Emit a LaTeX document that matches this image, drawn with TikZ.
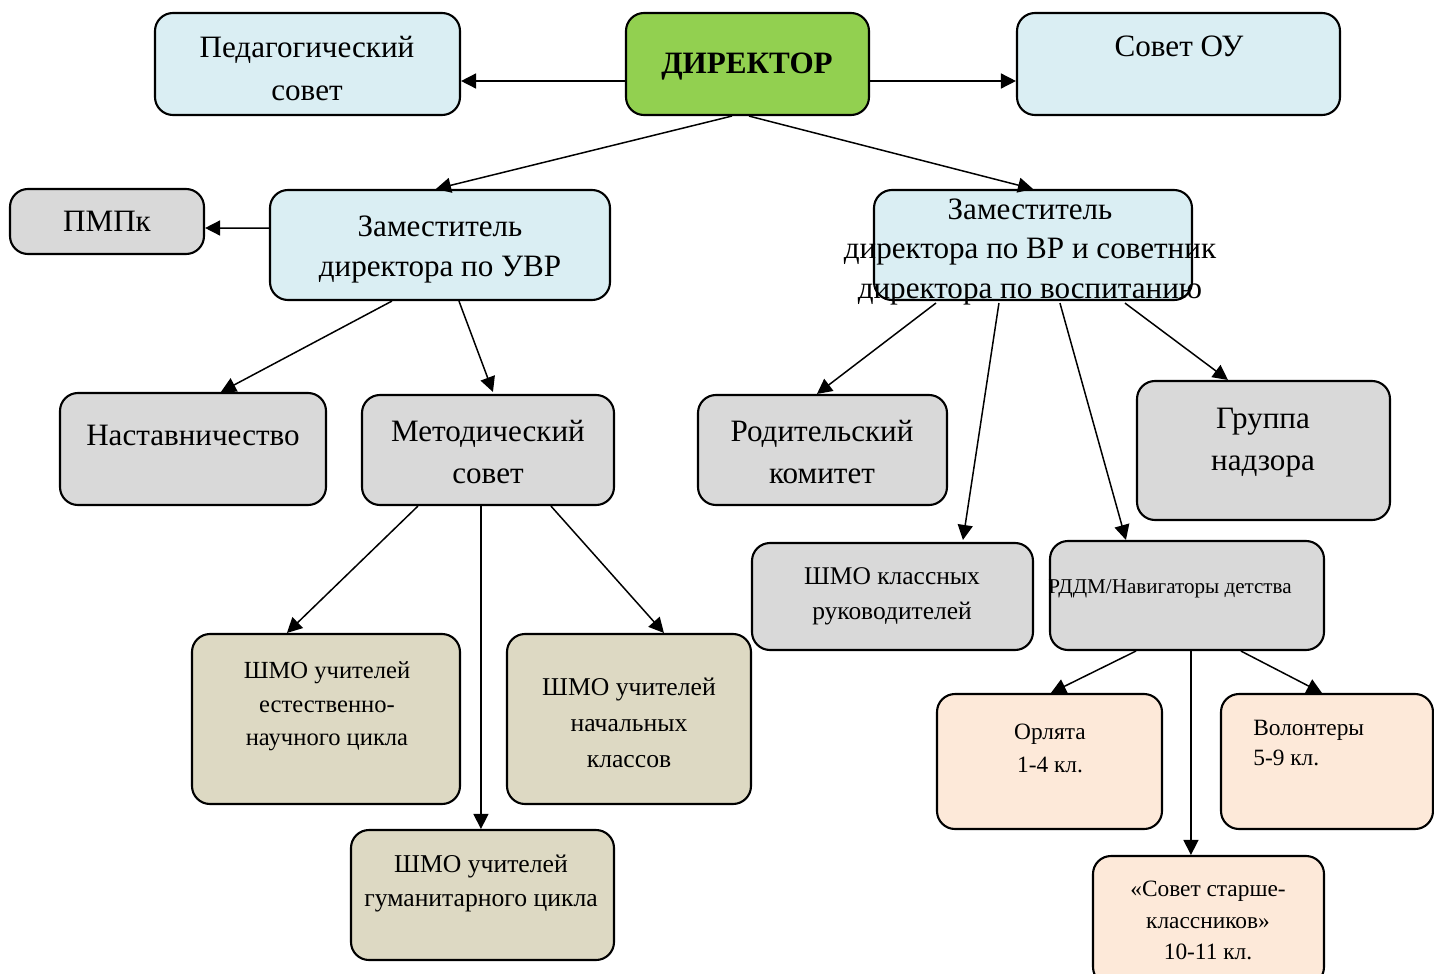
\documentclass[tikz,border=0pt]{standalone}
\usepackage{fontspec}
\setmainfont{Liberation Serif}
\usetikzlibrary{arrows.meta,calc}
\newdimen\px \px=0.02cm
\definecolor{org_green}{RGB}{146,208,80}
\definecolor{org_blue}{RGB}{218,238,243}
\definecolor{org_gray}{RGB}{217,217,217}
\definecolor{org_khaki}{RGB}{221,217,195}
\definecolor{org_peach}{RGB}{253,233,217}
\tikzstyle{box}=[rectangle,rounded corners=0.36cm,draw=black,line width=1.2pt,inner sep=0pt]
\tikzstyle{dn}=[box,fill=org_green]
\tikzstyle{bn}=[box,fill=org_blue]
\tikzstyle{sn}=[box,fill=org_gray]
\tikzstyle{kn}=[box,fill=org_khaki]
\tikzstyle{pn}=[box,fill=org_peach]
\tikzstyle{big}=[align=center,inner sep=0pt,font=\fontsize{17.7}{24}\selectfont]
\tikzstyle{mid}=[align=center,inner sep=0pt,font=\fontsize{14.5}{20}\selectfont]
\tikzstyle{sml}=[align=center,inner sep=0pt,font=\fontsize{13.3}{18.5}\selectfont]
\tikzstyle{arr}=[-{Triangle[length=0.3cm,width=0.3cm]},line width=0.85pt]

\begin{document}
\begin{tikzpicture}[x=\px,y=-\px]
        \useasboundingbox[fill=white] (0,0) rectangle (1434,974);
        % boxes
        \node [style=bn,minimum width=305\px,minimum height=102\px] (ped) at (307.5,64) {};
        \node [style=dn,minimum width=243\px,minimum height=102\px] (dir) at (747.5,64) {};
        \node [style=bn,minimum width=323\px,minimum height=102\px] (sov) at (1178.5,64) {};
        \node [style=sn,minimum width=194\px,minimum height=65\px] (pmpk) at (107,221.5) {};
        \node [style=bn,minimum width=340\px,minimum height=110\px] (uvr) at (440,245) {};
        \node [style=bn,minimum width=318\px,minimum height=110\px] (vr) at (1033,245) {};
        \node [style=sn,minimum width=266\px,minimum height=112\px] (nast) at (193,449) {};
        \node [style=sn,minimum width=252\px,minimum height=110\px] (met) at (488,450) {};
        \node [style=sn,minimum width=249\px,minimum height=110\px] (rod) at (822.5,450) {};
        \node [style=sn,minimum width=253\px,minimum height=139\px] (grp) at (1263.5,450.5) {};
        \node [style=sn,minimum width=281\px,minimum height=107\px] (shk) at (892.5,596.5) {};
        \node [style=sn,minimum width=274\px,minimum height=109\px] (rddm) at (1187,595.5) {};
        \node [style=kn,minimum width=268\px,minimum height=170\px] (est) at (326,719) {};
        \node [style=kn,minimum width=244\px,minimum height=170\px] (nach) at (629,719) {};
        \node [style=kn,minimum width=263\px,minimum height=130\px] (gum) at (482.5,895) {};
        \node [style=pn,minimum width=225\px,minimum height=135\px] (orl) at (1049.5,761.5) {};
        \node [style=pn,minimum width=212\px,minimum height=135\px] (vol) at (1327,761.5) {};
        \node [style=pn,minimum width=231\px,minimum height=129\px] (sst) at (1208.5,920.5) {};
        % texts
        \node [style=big] (ped-t) at (307,68.5) {Педагогический\\совет};
        \node [style=big] (dir-t) at (747,67) {\bfseries ДИРЕКТОР};
        \node [style=big] (sov-t) at (1179,46) {Совет ОУ};
        \node [style=big] (pmpk-t) at (107,221) {ПМПк};
        \node [style=big,font=\fontsize{17.7}{23.2}\selectfont] (uvr-t) at (440,249.5) {Заместитель\\директора по УВР};
        \node [style=big,font=\fontsize{17.7}{22.4}\selectfont] (vr-t) at (1030,252) {Заместитель\\директора по ВР и советник\\директора по воспитанию};
        \node [style=big] (nast-t) at (193,435) {Наставничество};
        \node [style=big] (met-t) at (488,452) {Методический\\совет};
        \node [style=big] (rod-t) at (822,452) {Родительский\\комитет};
        \node [style=big] (grp-t) at (1263,443) {Группа\\надзора};
        \node [style=mid] (shk-t) at (892,596.5) {ШМО классных\\руководителей};
        \node [style=sml,font=\fontsize{12}{14}\selectfont] (rddm-t) at (1170,589) {РДДМ/Навигаторы детства};
        \node [style=mid,font=\fontsize{14}{19}\selectfont] (est-t) at (327,706.5) {ШМО учителей\\естественно-\\научного  цикла};
        \node [style=mid,font=\fontsize{14.6}{20.4}\selectfont] (nach-t) at (629,723) {ШМО учителей\\начальных\\классов};
        \node [style=mid,font=\fontsize{14.6}{19.3}\selectfont] (gum-t) at (481,883.5) {ШМО учителей\\гуманитарного  цикла};
        \node [style=sml] (orl-t) at (1050,748.5) {Орлята\\1-4 кл.};
        \node [style=sml,align=left,anchor=west,font=\fontsize{13.3}{17}\selectfont] (vol-t) at (1253,743) {Волонтеры\\5-9 кл.};
        \node [style=sml,font=\fontsize{13.3}{17.9}\selectfont] (sst-t) at (1208,920.5) {«Совет старше-\\классников»\\10-11 кл.};
        % connectors
        \draw [style=arr] ($(dir.west)+(0,17)$) to ($(ped.east)+(0,17)$);
        \draw [style=arr] ($(dir.east)+(0,17)$) to ($(sov.west)+(0,17)$);
        \draw [style=arr] ($(dir.south west)+(107,0)$) to ($(uvr.north west)+(167,0)$);
        \draw [style=arr] ($(dir.south west)+(124,0)$) to (vr.north);
        \draw [style=arr] ($(uvr.west)+(0,-17)$) to ($(pmpk.east)+(0,6.5)$);
        \draw [style=arr] ($(uvr.south west)+(123,0)$) to ($(nast.north west)+(162,0)$);
        \draw [style=arr] ($(uvr.south west)+(190,0)$) to ($(met.north west)+(132,-2)$);
        \draw [style=arr] ($(vr.south west)+(63,2)$) to ($(rod.north west)+(120,0)$);
        \draw [style=arr] ($(vr.south west)+(126,2)$) to ($(shk.north west)+(212,-2)$);
        \draw [style=arr] ($(vr.south west)+(187,2)$) to ($(rddm.north west)+(77,0)$);
        \draw [style=arr] ($(vr.south west)+(252,2)$) to ($(grp.north west)+(92,0)$);
        \draw [style=arr] ($(met.south west)+(57,0)$) to ($(est.north west)+(96,0)$);
        \draw [style=arr] ($(met.south west)+(120,0)$) to ($(gum.north west)+(131,0)$);
        \draw [style=arr] ($(met.south west)+(190,0)$) to ($(nach.north west)+(158,0)$);
        \draw [style=arr] ($(rddm.south west)+(87,0)$) to ($(orl.north west)+(115,0)$);
        \draw [style=arr] ($(rddm.south west)+(142,0)$) to ($(sst.north west)+(99,0)$);
        \draw [style=arr] ($(rddm.south west)+(192,0)$) to ($(vol.north west)+(102,0)$);
    \end{tikzpicture}
\end{document}
